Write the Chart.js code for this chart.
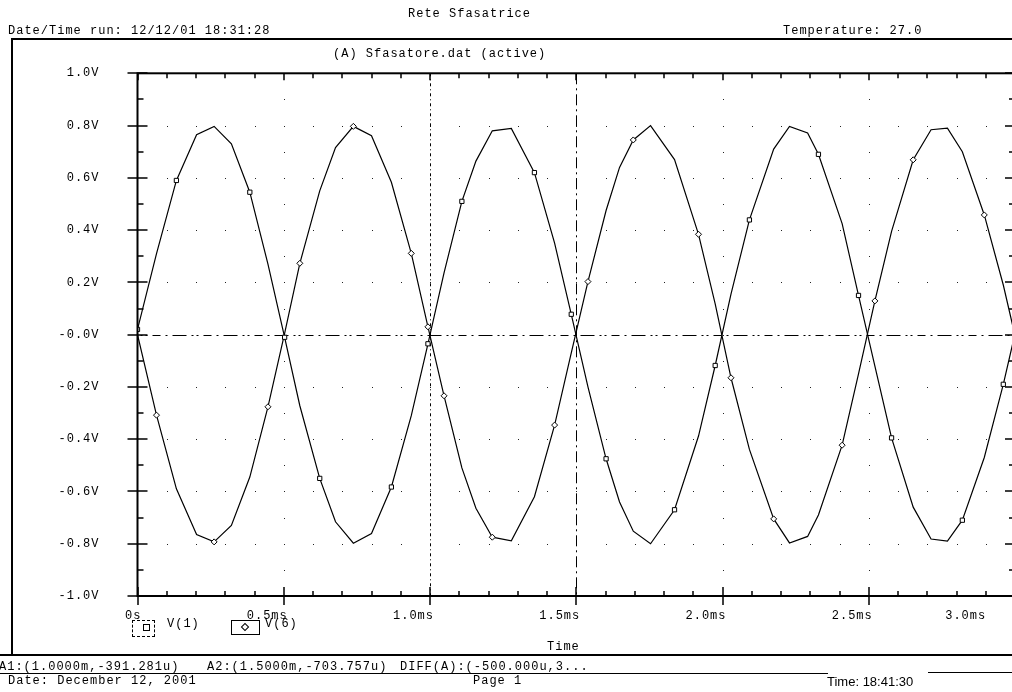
<!DOCTYPE html>
<html>
<head>
<meta charset="utf-8">
<script src="https://cdn.jsdelivr.net/npm/chart.js@4/dist/chart.umd.min.js"></script>
<style>
html,body{margin:0;padding:0;background:#fff;overflow:hidden;width:1012px;height:692px;}
#wrap{position:absolute;left:0;top:0;width:1030px;height:692px;}
.t{position:absolute;font-family:"Liberation Mono",monospace;font-size:12px;line-height:12px;letter-spacing:1px;color:#000;white-space:pre;}
.s{position:absolute;font-family:"Liberation Sans",Arial,sans-serif;font-size:13px;line-height:13px;color:#000;white-space:pre;}
.ln{position:absolute;background:#000;}
</style>
</head>
<body>
<div id="wrap"><canvas id="c" width="1030" height="692" style="width:1030px;height:692px"></canvas></div>

<div class="t" style="left:408px;top:8px">Rete Sfasatrice</div>
<div class="t" style="left:8px;top:25px">Date/Time run: 12/12/01 18:31:28</div>
<div class="t" style="left:783px;top:25px">Temperature: 27.0</div>
<div class="ln" style="left:12px;top:38px;width:1000px;height:2px"></div>
<div class="ln" style="left:11px;top:38px;width:2px;height:618px"></div>
<div class="t" style="left:333px;top:48px">(A) Sfasatore.dat (active)</div>

<div style="position:absolute;left:132px;top:620px;width:21px;height:15px;border:1px dashed #000"></div>
<div style="position:absolute;left:143px;top:624px;width:5px;height:5px;border:1px solid #000"></div>
<div class="t" style="left:167px;top:618px">V(1)</div>
<div style="position:absolute;left:231px;top:620px;width:27px;height:13px;border:1px solid #000"></div>
<div style="position:absolute;left:242px;top:624px;width:4px;height:4px;border:1px solid #000;transform:rotate(45deg)"></div>
<div class="t" style="left:265px;top:618px">V(6)</div>

<div class="t" style="left:547px;top:641px">Time</div>
<div class="ln" style="left:0;top:654px;width:1012px;height:2px"></div>
<div class="t" style="left:-1px;top:661px">A1:(1.0000m,-391.281u)</div>
<div class="t" style="left:207px;top:661px">A2:(1.5000m,-703.757u)</div>
<div class="t" style="left:400px;top:661px">DIFF(A):(-500.000u,3...</div>
<div class="ln" style="left:0;top:673px;width:828px;height:1px"></div>
<div class="ln" style="left:928px;top:672px;width:84px;height:1px"></div>
<div class="t" style="left:8px;top:675px">Date: December 12, 2001</div>
<div class="t" style="left:473px;top:675px">Page 1</div>
<div class="s" style="left:827px;top:675px">Time: 18:41:30</div>

<script>
// ---- data (time in ms, voltage in V) ----
const timeMs = [0, 0.065, 0.133, 0.202, 0.262, 0.321, 0.384, 0.446, 0.503, 0.555,
  0.623, 0.677, 0.738, 0.80, 0.868, 0.936, 0.993, 1.048, 1.109, 1.157,
  1.213, 1.278, 1.357, 1.426, 1.483, 1.540, 1.602, 1.648, 1.695, 1.754,
  1.836, 1.918, 1.975, 2.029, 2.092, 2.175, 2.229, 2.291, 2.328, 2.409,
  2.465, 2.521, 2.578, 2.652, 2.713, 2.769, 2.82, 2.895, 2.960, 3.02];
const v1 = [0.02, 0.31, 0.59, 0.765, 0.797, 0.73, 0.545, 0.27, -0.01, -0.272,
  -0.55, -0.716, -0.798, -0.761, -0.583, -0.31, -0.035, 0.236, 0.51, 0.664,
  0.78, 0.789, 0.62, 0.35, 0.078, -0.2, -0.475, -0.64, -0.752, -0.80,
  -0.67, -0.388, -0.118, 0.155, 0.439, 0.71, 0.797, 0.772, 0.69, 0.425,
  0.15, -0.12, -0.395, -0.66, -0.782, -0.79, -0.71, -0.47, -0.19, 0.10];
const v6 = [0.0, -0.308, -0.59, -0.765, -0.793, -0.73, -0.545, -0.276, 0.005, 0.273,
  0.55, 0.716, 0.797, 0.761, 0.583, 0.311, 0.03, -0.234, -0.51, -0.664,
  -0.775, -0.789, -0.62, -0.346, -0.07, 0.203, 0.475, 0.64, 0.745, 0.80,
  0.67, 0.384, 0.118, -0.165, -0.439, -0.705, -0.797, -0.772, -0.69, -0.423,
  -0.15, 0.129, 0.395, 0.669, 0.784, 0.79, 0.70, 0.458, 0.19, -0.10];
const v1MarkerTimes = [0, 0.133, 0.384, 0.503, 0.623, 0.868, 0.993, 1.109, 1.357, 1.483,
  1.602, 1.836, 1.975, 2.092, 2.328, 2.465, 2.578, 2.82, 2.960];
const v6MarkerTimes = [0.065, 0.262, 0.446, 0.555, 0.738, 0.936, 0.993, 1.048, 1.213, 1.426,
  1.540, 1.695, 1.918, 2.029, 2.175, 2.409, 2.521, 2.652, 2.895];
const xTickLabels = ['0s', '0.5ms', '1.0ms', '1.5ms', '2.0ms', '2.5ms', '3.0ms    '];
const yTickLabels = ['-1.0V', '-0.8V', '-0.6V', '-0.4V', '-0.2V', '-0.0V', '0.2V', '0.4V', '0.6V', '0.8V', '1.0V'];
const cursorTimes = [1.0, 1.5];

const FONT = {family: '"Liberation Mono", monospace', size: 12};

const pspice = {
  id: 'pspice',
  beforeDraw(chart) { chart.ctx.letterSpacing = '1px'; },
  beforeDatasetsDraw(chart) {
    const {ctx, chartArea: a, scales: {x, y}} = chart;
    ctx.save();
    ctx.fillStyle = '#222';
    // dotted horizontal grid (every 0.2 V, dots each 0.1 ms)
    for (let j = -4; j <= 4; j++) {
      if (j === 0) continue;
      const py = Math.round(y.getPixelForValue(j * 0.2));
      for (let i = 1; i < 31; i++) {
        const px = Math.round(x.getPixelForValue(i * 0.1));
        if (px < a.right - 3) ctx.fillRect(px, py, 1, 1);
      }
    }
    // dotted vertical grid at major times (dots each 0.1 V)
    for (const t of [0.5, 2.0, 2.5]) {
      const px = Math.round(x.getPixelForValue(t));
      for (let j = -9; j <= 9; j++) {
        ctx.fillRect(px, Math.round(y.getPixelForValue(j * 0.1)), 1, 1);
      }
    }
    // cursor lines
    ctx.strokeStyle = '#000';
    ctx.lineWidth = 1;
    const drawV = (t, dash) => {
      const px = Math.round(x.getPixelForValue(t)) + 0.5;
      ctx.setLineDash(dash);
      ctx.beginPath(); ctx.moveTo(px, a.top); ctx.lineTo(px, a.bottom); ctx.stroke();
    };
    drawV(cursorTimes[0], [3, 3, 1, 3]);
    drawV(cursorTimes[1], [11, 4, 2, 4]);
    const py0 = Math.round(y.getPixelForValue(0)) + 0.5;
    ctx.setLineDash([8, 5, 2, 5, 14, 5, 2, 3, 2, 5]);
    ctx.lineDashOffset = -15;
    ctx.beginPath(); ctx.moveTo(a.left, py0); ctx.lineTo(a.right, py0); ctx.stroke();
    ctx.restore();
  },
  afterDatasetsDraw(chart) {
    const {ctx, chartArea: a, scales: {x, y}} = chart;
    ctx.save();
    ctx.strokeStyle = '#000';
    ctx.lineWidth = 2;
    ctx.strokeRect(a.left, a.top, a.right - a.left, a.bottom - a.top);
    ctx.lineWidth = 1.5;
    ctx.beginPath();
    for (let i = 0; i <= 30; i++) {
      const px = Math.round(x.getPixelForValue(i * 0.1));
      const major = i % 5 === 0;
      if (major) { ctx.moveTo(px, a.bottom - 9); ctx.lineTo(px, a.bottom + 9); }
      else { ctx.moveTo(px, a.bottom - 5); ctx.lineTo(px, a.bottom); }
      ctx.moveTo(px, a.top); ctx.lineTo(px, a.top + (major ? 7 : 5));
    }
    for (let j = -10; j <= 10; j++) {
      const py = Math.round(y.getPixelForValue(j * 0.1));
      const major = j % 2 === 0;
      if (major) { ctx.moveTo(a.left - 10, py); ctx.lineTo(a.left + 10, py); }
      else { ctx.moveTo(a.left, py); ctx.lineTo(a.left + 6, py); }
      ctx.moveTo(a.right, py); ctx.lineTo(a.right - (major ? 10 : 6), py);
    }
    ctx.stroke();
    ctx.restore();
  }
};

new Chart(document.getElementById('c'), {
  type: 'scatter',
  data: {
    datasets: [
      {
        label: 'V(1)',
        data: timeMs.map((t, i) => ({x: t, y: v1[i]})),
        showLine: true, borderColor: '#000', borderWidth: 1.2, tension: 0,
        pointStyle: 'rect', backgroundColor: '#fff', pointBorderColor: '#000', pointBorderWidth: 1,
        pointRadius: timeMs.map(t => v1MarkerTimes.includes(t) ? 3 : 0)
      },
      {
        label: 'V(6)',
        data: timeMs.map((t, i) => ({x: t, y: v6[i]})),
        showLine: true, borderColor: '#000', borderWidth: 1.2, tension: 0,
        pointStyle: 'rectRot', backgroundColor: '#fff', pointBorderColor: '#000', pointBorderWidth: 1,
        pointRadius: timeMs.map(t => v6MarkerTimes.includes(t) ? 3 : 0)
      }
    ]
  },
  options: {
    responsive: false,
    animation: false,
    events: [],
    layout: {padding: {left: 0, top: 73.3, right: 15, bottom: 0}},
    plugins: {legend: {display: false}, tooltip: {enabled: false}},
    scales: {
      x: {
        type: 'linear', min: 0, max: 3.0,
        afterBuildTicks: s => { s.ticks = xTickLabels.map((_, i) => ({value: i * 0.5})); },
        afterFit: s => { s.height = 96; },
        grid: {display: false, drawTicks: false}, border: {display: false},
        ticks: {
          autoSkip: false, maxRotation: 0, align: 'end', labelOffset: 4, padding: 13,
          color: '#000', font: FONT,
          callback: (v, i) => xTickLabels[i]
        }
      },
      y: {
        type: 'linear', min: -1, max: 1,
        afterBuildTicks: s => { s.ticks = yTickLabels.map((_, i) => ({value: -1 + i * 0.2})); },
        afterFit: s => { s.width = 137.5; },
        grid: {display: false, drawTicks: false}, border: {display: false},
        ticks: {
          autoSkip: false, padding: 38, color: '#000', font: FONT,
          callback: (v, i) => yTickLabels[i]
        }
      }
    }
  },
  plugins: [pspice]
});
</script>
</body>
</html>
